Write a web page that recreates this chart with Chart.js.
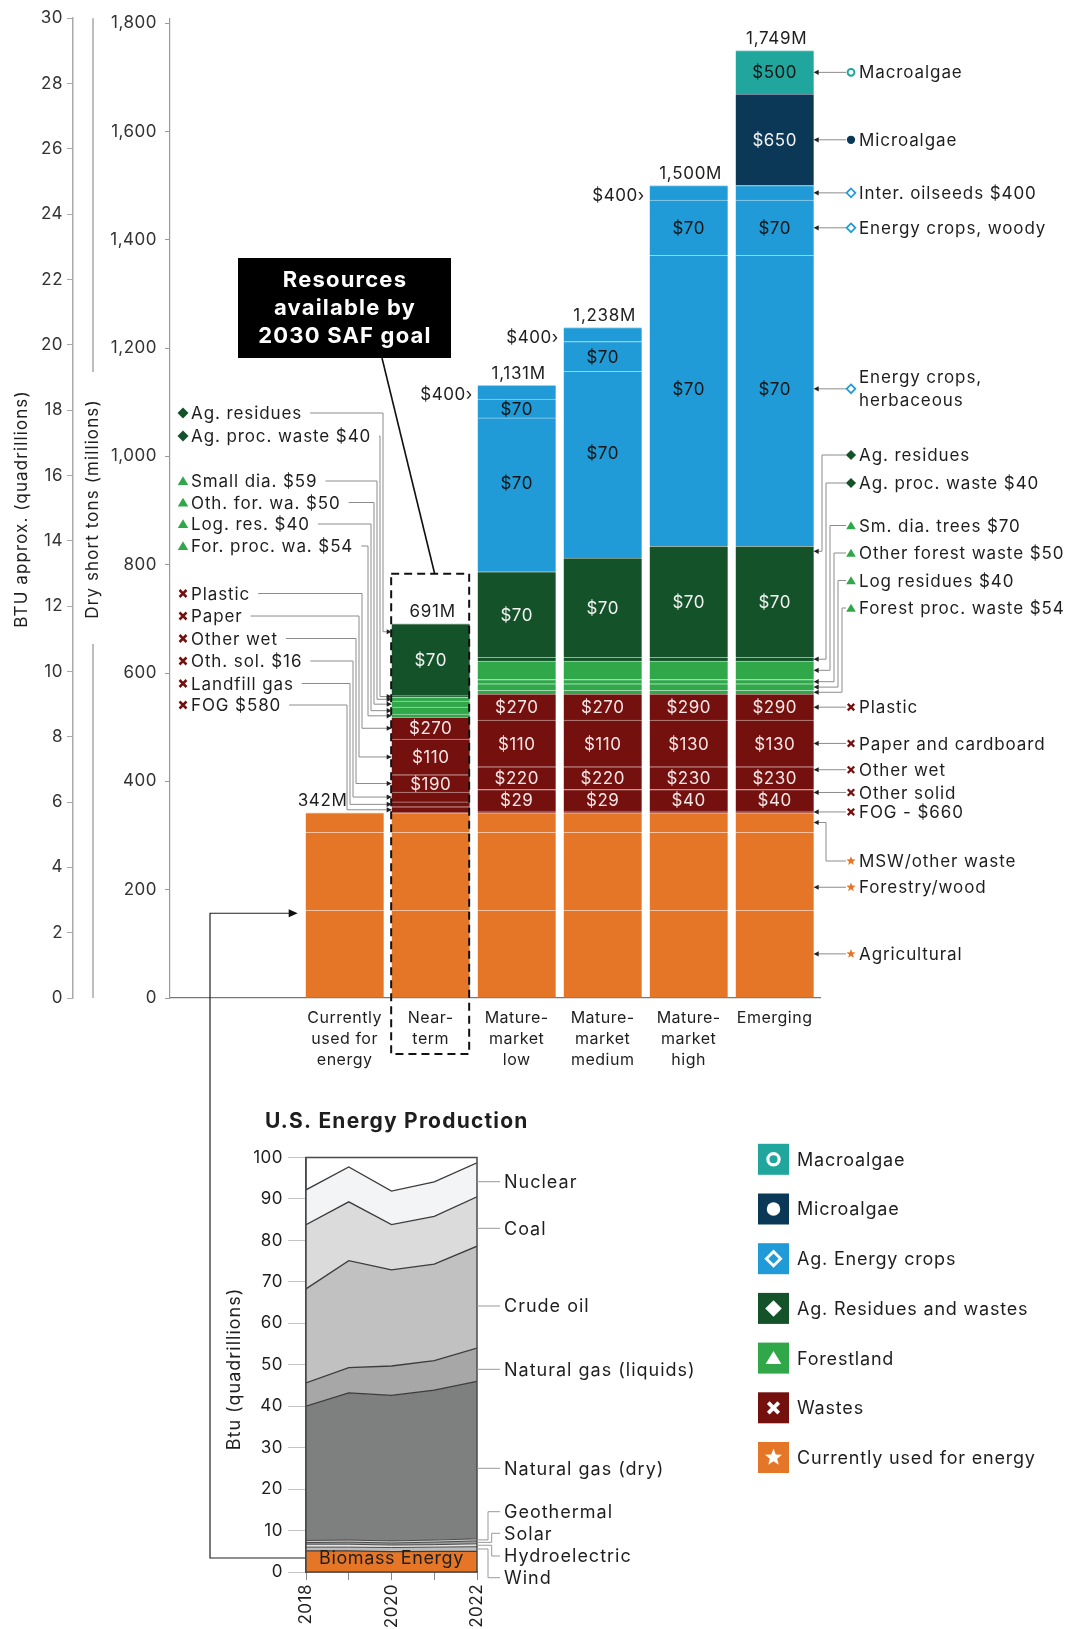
<!DOCTYPE html>
<html><head><meta charset="utf-8">
<script src="https://cdn.jsdelivr.net/npm/chart.js@4.4.1/dist/chart.umd.min.js"></script>
<style>
html,body{margin:0;padding:0;background:#fff;}
#wrap{position:relative;width:1071px;height:1629px;overflow:hidden;background:#fff;}
canvas{position:absolute;}
</style></head><body>
<div id="wrap">
<canvas id="main" width="1071" height="1629" style="left:0;top:0;width:1071px;height:1629px"></canvas>
<canvas id="energy" width="560" height="529" style="left:200px;top:1100px;width:560px;height:529px"></canvas>
</div>
<script>
// ---------------- DATA (million dry short tons) ----------------
const categories = [["Currently","used for","energy"],["Near-","term"],["Mature-","market","low"],["Mature-","market","medium"],["Mature-","market","high"],["Emerging"]];
const barIndex = [0,1,2,3,4,5];
const tonsTicks = [0,200,400,600,800,1000,1200,1400,1600,1800];
const btuTicks = [0,2,4,6,8,10,12,14,16,18,20,22,24,26,28,30];

const agricultural     = [162,162,162,162,162,162];
const forestryWood     = [144,144,144,144,144,144];
const mswOther         = [36,36,36,36,36,36];
const fog              = [0,11,3,3,3,3];
const landfillGas      = [0,9,0,0,0,0];
const otherSolid       = [0,18,40,40,40,40];
const otherWet         = [0,32,42,42,42,42];
const paper            = [0,66,86,86,86,86];
const plastic          = [0,40,48,48,48,48];
const forestProcWaste  = [0,6,7,7,7,7];
const logResidues      = [0,13,12,12,12,12];
const otherForestWaste = [0,11,8,8,8,8];
const smallDiaTrees    = [0,7,34,34,34,34];
const agProcWaste      = [0,3,7,7,7,7];
const agResidues       = [0,133,158,183,205,205];
const herbaceous       = [0,0,284,345,537,537];
const woody            = [0,0,35,55,102,102];
const oilseeds         = [0,0,25,26,27,27];
const microalgae       = [0,0,0,0,0,169];
const macroalgae       = [0,0,0,0,0,80];

// price labels ($/dry ton)
const agResiduesPrice = [null,'$70','$70','$70','$70','$70'];
const herbaceousPrice = [null,null,'$70','$70','$70','$70'];
const woodyPrice      = [null,null,'$70','$70','$70','$70'];
const plasticPrice    = [null,'$270','$270','$270','$290','$290'];
const paperPrice      = [null,'$110','$110','$110','$130','$130'];
const otherWetPrice   = [null,'$190','$220','$220','$230','$230'];
const otherSolidPrice = [null,null,'$29','$29','$40','$40'];
const microPrice      = [null,null,null,null,null,'$650'];
const macroPrice      = [null,null,null,null,null,'$500'];
const oilseedPrice    = [null,null,'$400','$400','$400',null];

// U.S. energy production (quadrillion Btu)
const years      = [2018,2019,2020,2021,2022];
const yearLabels = ['2018','','2020','','2022'];
const energyTicks = [0,10,20,30,40,50,60,70,80,90,100];
const biomass    = [5.1,5.1,4.9,5.0,5.0];
const wind       = [0.9,0.9,1.0,1.0,1.1];
const hydro      = [0.7,0.7,0.6,0.6,0.7];
const solar      = [0.4,0.5,0.5,0.6,0.7];
const geothermal = [0.5,0.5,0.5,0.5,0.5];
const ngDry      = [32.4,35.5,35.1,36.2,38.0];
const ngLiquids  = [5.6,6.1,7.1,7.1,8.0];
const crudeOil   = [22.7,25.8,23.2,23.3,24.6];
const coal       = [15.5,14.2,10.9,11.5,11.9];
const nuclear    = [8.4,8.4,8.1,8.3,8.2];

// ---------------- STYLE ----------------
const FONT = 'Inter, "Noto Sans", "DejaVu Sans", sans-serif';
const ORANGE='#E67627', RED='#74110F', LTGREEN='#30A84A', DKGREEN='#14522A', BLUE='#209BD7', NAVY='#0B3857', TEAL='#21A69D';
const TXT='#1e1e1e';
Chart.defaults.font.family = FONT;
Chart.defaults.font.size = 17;
Chart.defaults.color = TXT;

function lighten(hex, a){
  const n=parseInt(hex.slice(1),16); let r=n>>16,g=(n>>8)&255,b=n&255;
  r=Math.round(r+(255-r)*a); g=Math.round(g+(255-g)*a); b=Math.round(b+(255-b)*a);
  return `rgb(${r},${g},${b})`;
}

const layers = [
  {key:'agricultural', name:'Agricultural', data:agricultural, color:ORANGE},
  {key:'forestry', name:'Forestry/wood', data:forestryWood, color:ORANGE},
  {key:'msw', name:'MSW/other waste', data:mswOther, color:ORANGE},
  {key:'fog', name:'FOG', data:fog, color:RED},
  {key:'landfill', name:'Landfill gas', data:landfillGas, color:RED},
  {key:'otherSolid', name:'Other solid', data:otherSolid, color:RED, price:otherSolidPrice, tc:'#f6e6e6'},
  {key:'otherWet', name:'Other wet', data:otherWet, color:RED, price:otherWetPrice, tc:'#f6e6e6'},
  {key:'paper', name:'Paper and cardboard', data:paper, color:RED, price:paperPrice, tc:'#f6e6e6'},
  {key:'plastic', name:'Plastic', data:plastic, color:RED, price:plasticPrice, tc:'#f6e6e6'},
  {key:'forProc', name:'Forest proc. waste', data:forestProcWaste, color:LTGREEN},
  {key:'logRes', name:'Log residues', data:logResidues, color:LTGREEN},
  {key:'othFor', name:'Other forest waste', data:otherForestWaste, color:LTGREEN},
  {key:'smDia', name:'Sm. dia. trees', data:smallDiaTrees, color:LTGREEN},
  {key:'agProc', name:'Ag. proc. waste', data:agProcWaste, color:DKGREEN},
  {key:'agRes', name:'Ag. residues', data:agResidues, color:DKGREEN, price:agResiduesPrice, tc:'#f2f2f2'},
  {key:'herb', name:'Energy crops, herbaceous', data:herbaceous, color:BLUE, price:herbaceousPrice, tc:'#141414', pdy:-12},
  {key:'woody', name:'Energy crops, woody', data:woody, color:BLUE, price:woodyPrice, tc:'#141414'},
  {key:'oil', name:'Inter. oilseeds', data:oilseeds, color:BLUE},
  {key:'micro', name:'Microalgae', data:microalgae, color:NAVY, price:microPrice, tc:'#f2f2f2'},
  {key:'macro', name:'Macroalgae', data:macroalgae, color:TEAL, price:macroPrice, tc:'#141414'},
];
const layerKeys = layers.map(l=>l.key);

const leftNotes = [
  {key:'agRes', text:'Ag. residues', mk:'diamond', c:DKGREEN, ly:413, vx:383, anchor:'top', dy:8},
  {key:'agProc', text:'Ag. proc. waste $40', mk:'diamond', c:DKGREEN, ly:436, vx:380},
  {key:'smDia', text:'Small dia. $59', mk:'tri', c:LTGREEN, ly:481, vx:377},
  {key:'othFor', text:'Oth. for. wa. $50', mk:'tri', c:LTGREEN, ly:502.5, vx:374},
  {key:'logRes', text:'Log. res. $40', mk:'tri', c:LTGREEN, ly:524, vx:371},
  {key:'forProc', text:'For. proc. wa. $54', mk:'tri', c:LTGREEN, ly:546, vx:368},
  {key:'plastic', text:'Plastic', mk:'x', c:RED, ly:593.5, vx:362},
  {key:'paper', text:'Paper', mk:'x', c:RED, ly:616, vx:359},
  {key:'otherWet', text:'Other wet', mk:'x', c:RED, ly:638.5, vx:356},
  {key:'otherSolid', text:'Oth. sol. $16', mk:'x', c:RED, ly:661, vx:353},
  {key:'landfill', text:'Landfill gas', mk:'x', c:RED, ly:683.5, vx:350},
  {key:'fog', text:'FOG $580', mk:'x', c:RED, ly:705, vx:347},
];
const rightNotes = [
  {key:'macro', text:['Macroalgae'], mk:'ocircle', c:TEAL},
  {key:'micro', text:['Microalgae'], mk:'circle', c:NAVY},
  {key:'oil', text:['Inter. oilseeds $400'], mk:'odiamond', c:BLUE},
  {key:'woody', text:['Energy crops, woody'], mk:'odiamond', c:BLUE},
  {key:'herb', text:['Energy crops,','herbaceous'], mk:'odiamond', c:BLUE, dy:-12},
  {key:'agRes', text:['Ag. residues'], mk:'diamond', c:DKGREEN, anchor:'top', dy:5, ly:455, bx:822},
  {key:'agProc', text:['Ag. proc. waste $40'], mk:'diamond', c:DKGREEN, ly:483, bx:826},
  {key:'smDia', text:['Sm. dia. trees $70'], mk:'tri', c:LTGREEN, ly:525.5, bx:830},
  {key:'othFor', text:['Other forest waste $50'], mk:'tri', c:LTGREEN, ly:553, bx:834},
  {key:'logRes', text:['Log residues $40'], mk:'tri', c:LTGREEN, ly:580.5, bx:838},
  {key:'forProc', text:['Forest proc. waste $54'], mk:'tri', c:LTGREEN, ly:608, bx:842},
  {key:'plastic', text:['Plastic'], mk:'x', c:RED},
  {key:'paper', text:['Paper and cardboard'], mk:'x', c:RED},
  {key:'otherWet', text:['Other wet'], mk:'x', c:RED, anchor:'top', dy:3},
  {key:'otherSolid', text:['Other solid'], mk:'x', c:RED, anchor:'top', dy:3},
  {key:'fog', text:['FOG - $660'], mk:'x', c:RED},
  {key:'msw', text:['MSW/other waste'], mk:'star', c:ORANGE, ly:861, bx:826},
  {key:'forestry', text:['Forestry/wood'], mk:'star', c:ORANGE, dy:16},
  {key:'agricultural', text:['Agricultural'], mk:'star', c:ORANGE},
];
const legendItems = [
  {text:'Macroalgae', c:TEAL, mk:'ocircle'},
  {text:'Microalgae', c:NAVY, mk:'circle'},
  {text:'Ag. Energy crops', c:BLUE, mk:'odiamond'},
  {text:'Ag. Residues and wastes', c:DKGREEN, mk:'diamond'},
  {text:'Forestland', c:LTGREEN, mk:'tri'},
  {text:'Wastes', c:RED, mk:'x'},
  {text:'Currently used for energy', c:ORANGE, mk:'star'},
];

// ---------------- helpers ----------------
function marker(ctx, type, x, y, s, color){
  ctx.save(); ctx.fillStyle=color; ctx.strokeStyle=color; ctx.lineJoin='miter';
  ctx.beginPath();
  switch(type){
    case 'ocircle': ctx.lineWidth=s*0.42; ctx.arc(x,y,s*0.75,0,Math.PI*2); ctx.stroke(); break;
    case 'circle': ctx.arc(x,y,s*0.9,0,Math.PI*2); ctx.fill(); break;
    case 'odiamond': ctx.lineWidth=s*0.38; ctx.moveTo(x,y-s*0.95); ctx.lineTo(x+s*0.95,y); ctx.lineTo(x,y+s*0.95); ctx.lineTo(x-s*0.95,y); ctx.closePath(); ctx.stroke(); break;
    case 'diamond': ctx.moveTo(x,y-s*1.1); ctx.lineTo(x+s*1.1,y); ctx.lineTo(x,y+s*1.1); ctx.lineTo(x-s*1.1,y); ctx.closePath(); ctx.fill(); break;
    case 'tri': ctx.moveTo(x,y-s*0.95); ctx.lineTo(x+s*1.05,y+s*0.8); ctx.lineTo(x-s*1.05,y+s*0.8); ctx.closePath(); ctx.fill(); break;
    case 'x': { ctx.lineWidth=s*0.5; ctx.lineCap='butt'; const d=s*0.7; ctx.moveTo(x-d,y-d); ctx.lineTo(x+d,y+d); ctx.moveTo(x+d,y-d); ctx.lineTo(x-d,y+d); ctx.stroke(); break; }
    case 'star': {
      for(let k=0;k<10;k++){const r=k%2?s*0.45:s*1.05; const a=-Math.PI/2+k*Math.PI/5; const px=x+r*Math.cos(a), py=y+r*Math.sin(a); k?ctx.lineTo(px,py):ctx.moveTo(px,py);}
      ctx.closePath(); ctx.fill(); break;
    }
  }
  ctx.restore();
}
function arrowHead(ctx, x, y, dir, color){
  ctx.save(); ctx.fillStyle=color||'#333'; ctx.beginPath();
  ctx.moveTo(x,y); ctx.lineTo(x-dir*5,y-2.6); ctx.lineTo(x-dir*5,y+2.6); ctx.closePath(); ctx.fill(); ctx.restore();
}
function segOf(chart, key, i){
  const el = chart.getDatasetMeta(layerKeys.indexOf(key)).data[i];
  const top=Math.min(el.y,el.base), bottom=Math.max(el.y,el.base);
  return {top, bottom, mid:(top+bottom)/2, left:el.x-el.width/2, right:el.x+el.width/2, cx:el.x};
}
function anchorY(s, n){ return (n.anchor==='top'? s.top : s.mid) + (n.dy||0); }
function setFont(ctx, size, spacing, bold){ ctx.font=(bold?'bold ':'')+size+'px '+FONT; ctx.letterSpacing=spacing+'px'; }

// ---------------- main chart plugin ----------------
const mainAnnot = {
  id:'mainAnnot',
  beforeDraw(chart){ chart.ctx.letterSpacing='0.5px'; },
  afterDraw(chart){
    const ctx=chart.ctx; const ys=chart.scales.y;
    ctx.save();
    ctx.textBaseline='middle';
    // in-bar price labels
    setFont(ctx,17,0.5); ctx.textAlign='center';
    layers.forEach(l=>{
      if(!l.price) return;
      l.price.forEach((p,i)=>{ if(!p) return; const s=segOf(chart,l.key,i); ctx.fillStyle=l.tc; ctx.fillText(p, s.cx, s.mid+(l.pdy||0)+1); });
    });
    // oilseed labels beside bars
    ctx.textAlign='right'; ctx.fillStyle=TXT;
    oilseedPrice.forEach((p,i)=>{ if(!p) return; const s=segOf(chart,'oil',i); ctx.fillText(p+'›', s.left-5, s.mid+3); });
    // totals
    setFont(ctx,17,0.7); ctx.textAlign='center';
    barIndex.forEach(i=>{
      const tot=layers.reduce((a,l)=>a+l.data[i],0);
      const el=chart.getDatasetMeta(0).data[i];
      const yTop=ys.getPixelForValue(tot);
      ctx.fillStyle=TXT; ctx.fillText(tot.toLocaleString('en-US')+'M', el.x+(i===0?-22:2), yTop-12);
    });
    // dashed near-term box
    const nt=segOf(chart,'agricultural',1);
    const ntTop=segOf(chart,'agRes',1).top;
    ctx.save(); ctx.setLineDash([8,5]); ctx.lineWidth=2; ctx.strokeStyle='#111';
    ctx.strokeRect(nt.left-0.5, ntTop-50, nt.right-nt.left, 1054-(ntTop-50)); ctx.restore();
    // callout
    ctx.fillStyle='#000'; ctx.fillRect(238,258,213,100);
    ctx.fillStyle='#fff'; setFont(ctx,22,1.2,true); ctx.textAlign='center';
    ['Resources','available by','2030 SAF goal'].forEach((t,k)=>ctx.fillText(t,345,280+k*28));
    ctx.strokeStyle='#111'; ctx.lineWidth=1.6; ctx.beginPath(); ctx.moveTo(382,358); ctx.lineTo((nt.left+nt.right)/2+4, ntTop-50); ctx.stroke();
    // left notes to near-term bar
    setFont(ctx,17,0.9); ctx.textAlign='left';
    leftNotes.forEach(n=>{
      const s=segOf(chart,n.key,1); const ay=anchorY(s,n);
      marker(ctx,n.mk,183,n.ly,5,n.c);
      ctx.fillStyle=TXT; ctx.fillText(n.text,191,n.ly+1);
      const w=ctx.measureText(n.text).width;
      ctx.strokeStyle='#8c8c8c'; ctx.lineWidth=1; ctx.beginPath();
      ctx.moveTo(191+w+8,n.ly); ctx.lineTo(n.vx,n.ly); ctx.lineTo(n.vx,ay); ctx.lineTo(s.left-1,ay); ctx.stroke();
      arrowHead(ctx,s.left,ay,1,'#222');
    });
    // right notes from emerging bar
    rightNotes.forEach(n=>{
      const s=segOf(chart,n.key,5); const ay=anchorY(s,n); const ly=(n.ly!==undefined)?n.ly:ay;
      ctx.strokeStyle='#8c8c8c'; ctx.lineWidth=1; ctx.beginPath();
      ctx.moveTo(s.right+1,ay);
      if(n.bx){ ctx.lineTo(n.bx,ay); ctx.lineTo(n.bx,ly); }
      ctx.lineTo(846,ly); ctx.stroke();
      arrowHead(ctx,s.right,ay,-1,'#222');
      marker(ctx,n.mk,851,ly,4.6,n.c);
      ctx.fillStyle=TXT; ctx.textAlign='left';
      if(n.text.length===1) ctx.fillText(n.text[0],859,ly+1);
      else n.text.forEach((t,k)=>ctx.fillText(t,859,ly-11.5+k*23+1));
    });
    // left axis titles & split line
    ctx.save(); setFont(ctx,17,1.1); ctx.fillStyle=TXT; ctx.textAlign='center';
    ctx.translate(22,509); ctx.rotate(-Math.PI/2); ctx.fillText('BTU approx. (quadrillions)',0,0); ctx.restore();
    ctx.save(); setFont(ctx,17,1.1); ctx.fillStyle=TXT; ctx.textAlign='center';
    ctx.translate(93,509); ctx.rotate(-Math.PI/2); ctx.fillText('Dry short tons (millions)',0,0); ctx.restore();
    ctx.strokeStyle='#a8a8a8'; ctx.lineWidth=1.5; ctx.beginPath();
    ctx.moveTo(93,chart.chartArea.top); ctx.lineTo(93,372); ctx.moveTo(93,644); ctx.lineTo(93,chart.chartArea.bottom); ctx.stroke();
    // connector from energy chart biomass to current-use bar
    const b0=segOf(chart,'agricultural',0); const cy=b0.top+3;
    ctx.strokeStyle='#222'; ctx.lineWidth=1.2; ctx.beginPath();
    ctx.moveTo(306,1558); ctx.lineTo(210,1558); ctx.lineTo(210,cy); ctx.lineTo(b0.left-12,cy); ctx.stroke();
    ctx.save(); ctx.fillStyle='#111'; ctx.beginPath(); ctx.moveTo(b0.left-8,cy); ctx.lineTo(b0.left-17,cy-4); ctx.lineTo(b0.left-17,cy+4); ctx.closePath(); ctx.fill(); ctx.restore();
    // legend
    legendItems.forEach((it,k)=>{
      const cyy=1159.3+k*49.7;
      ctx.fillStyle=it.c; ctx.fillRect(758,cyy-15.5,31,31);
      marker(ctx,it.mk,773.5,cyy,it.mk==='star'?8.5:7.5,'#fff');
      ctx.fillStyle=TXT; setFont(ctx,18,0.8); ctx.textAlign='left'; ctx.fillText(it.text,797,cyy+1);
    });
    ctx.restore();
  }
};

const mainChart = new Chart(document.getElementById('main'), {
  type:'bar',
  data:{
    labels: barIndex,
    datasets: layers.map(l=>({label:l.name, data:l.data.map(v=>v||null), xAxisID:'x', yAxisID:'y', backgroundColor:l.color, borderColor:lighten(l.color,0.55),
      borderWidth:{top:1,right:0,bottom:0,left:0}, borderSkipped:false, barThickness:78, grouped:false}))
  },
  options:{
    responsive:false, animation:false, events:[],
    layout:{padding:{left:0, top:14, right:251, bottom:546}},
    plugins:{legend:{display:false}, tooltip:{enabled:false}},
    scales:{
      x:{type:'linear', offset:false, min:-2.031, max:5.527,
        afterBuildTicks:s=>{s.ticks=barIndex.map(v=>({value:v}));},
        afterFit:s=>{s.height=85;},
        grid:{display:false, offset:false}, border:{display:true, color:'#777', width:1.2},
        ticks:{autoSkip:false, maxRotation:0, minRotation:0, padding:2, font:{size:16, lineHeight:1.3}, color:TXT, callback:v=>categories[v]}},
      btu:{type:'linear', axis:'y', position:'left', weight:2, min:0, max:30,
        afterBuildTicks:s=>{s.ticks=btuTicks.map(v=>({value:v}));},
        afterFit:s=>{s.width=73;},
        grid:{drawOnChartArea:false, drawTicks:true, tickLength:6, color:'#aaa'},
        border:{display:true, color:'#aaa', width:1.5},
        ticks:{autoSkip:false, padding:4, font:{size:17}, color:'#333'}},
      y:{type:'linear', position:'left', weight:1, stacked:true, min:0, max:1809,
        afterBuildTicks:s=>{s.ticks=tonsTicks.map(v=>({value:v}));},
        afterFit:s=>{s.width=97;},
        grid:{drawOnChartArea:false, drawTicks:true, tickLength:5, color:'#999'},
        border:{display:true, color:'#999', width:1.2},
        ticks:{autoSkip:false, padding:8, font:{size:17}, color:'#333', callback:v=>v.toLocaleString('en-US')}}
    }
  },
  plugins:[mainAnnot]
});

// ---------------- energy production chart ----------------
const energyLayers = [
  {key:'biomass', name:'Biomass Energy', data:biomass, color:ORANGE},
  {key:'wind', name:'Wind', data:wind, color:'#bdbdbd'},
  {key:'hydro', name:'Hydroelectric', data:hydro, color:'#e4e4e4'},
  {key:'solar', name:'Solar', data:solar, color:'#9c9c9c'},
  {key:'geothermal', name:'Geothermal', data:geothermal, color:'#cfcfcf'},
  {key:'ngDry', name:'Natural gas (dry)', data:ngDry, color:'#7e7f7f'},
  {key:'ngLiquids', name:'Natural gas (liquids)', data:ngLiquids, color:'#a7a7a7'},
  {key:'crude', name:'Crude oil', data:crudeOil, color:'#c1c1c1'},
  {key:'coal', name:'Coal', data:coal, color:'#dbdbdb'},
  {key:'nuclear', name:'Nuclear', data:nuclear, color:'#f3f4f6'},
];
const energyKeys = energyLayers.map(l=>l.key);
const energyNotes = [
  {text:'Nuclear', ly:81.7},
  {text:'Coal', ly:128.3},
  {text:'Crude oil', ly:206},
  {text:'Natural gas (liquids)', ly:269.3},
  {text:'Natural gas (dry)', ly:368.3},
  {text:'Geothermal', ly:411.7, key:'geothermal', bx:288},
  {text:'Solar', ly:433.3, key:'solar', bx:291.7},
  {text:'Hydroelectric', ly:456, key:'hydro', bx:291.7},
  {text:'Wind', ly:477.7, key:'wind', bx:288},
];
const energyAnnot = {
  id:'energyAnnot',
  beforeDraw(chart){ chart.ctx.letterSpacing='0.5px'; },
  afterDraw(chart){
    const ctx=chart.ctx, ca=chart.chartArea; ctx.save();
    ctx.strokeStyle='#4a4a4a'; ctx.lineWidth=1.5; ctx.strokeRect(ca.left,ca.top,ca.right-ca.left,ca.bottom-ca.top);
    ctx.fillStyle=TXT; ctx.textBaseline='middle';
    setFont(ctx,21,1.2,true); ctx.textAlign='left'; ctx.fillText('U.S. Energy Production',65,22);
    setFont(ctx,18,0.6); ctx.textAlign='center';
    ctx.fillText('Biomass Energy',(ca.left+ca.right)/2,459);
    setFont(ctx,18,1); 
    ctx.save(); ctx.translate(35,269); ctx.rotate(-Math.PI/2); ctx.fillText('Btu (quadrillions)',0,0); ctx.restore();
    ctx.textAlign='left';
    energyNotes.forEach(n=>{
      ctx.strokeStyle='#999'; ctx.lineWidth=1; ctx.beginPath();
      if(n.key){
        const di=energyKeys.indexOf(n.key); const last=years.length-1;
        const yTop=chart.getDatasetMeta(di).data[last].y, yBot=chart.getDatasetMeta(di-1).data[last].y;
        const ay=(yTop+yBot)/2;
        ctx.moveTo(ca.right,ay); ctx.lineTo(n.bx,ay); ctx.lineTo(n.bx,n.ly); ctx.lineTo(300,n.ly);
      } else { ctx.moveTo(ca.right,n.ly); ctx.lineTo(300,n.ly); }
      ctx.stroke();
      ctx.fillStyle=TXT; ctx.fillText(n.text,304,n.ly+1);
    });
    ctx.restore();
  }
};
const energyChart = new Chart(document.getElementById('energy'), {
  type:'line',
  data:{
    labels: years,
    datasets: energyLayers.map((l,i)=>({label:l.name, data:l.data, backgroundColor:l.color, borderColor:'#3c3c3c',
      borderWidth:(i>=1&&i<=4)?0.9:1.3, fill:i===0?'origin':'-1', pointRadius:0, tension:0}))
  },
  options:{
    responsive:false, animation:false, events:[],
    layout:{padding:{left:0, top:57.5, right:283, bottom:0}},
    plugins:{legend:{display:false}, tooltip:{enabled:false}},
    scales:{
      x:{type:'linear', min:2018, max:2022,
        afterBuildTicks:s=>{s.ticks=years.map(v=>({value:v}));},
        afterFit:s=>{s.height=57;},
        grid:{drawOnChartArea:false, drawTicks:true, tickLength:8, color:'#888'},
        border:{display:true, color:'#4a4a4a', width:1.5},
        ticks:{autoSkip:false, minRotation:90, maxRotation:90, padding:4, font:{size:17}, color:TXT, callback:(v,i)=>yearLabels[i]}},
      y:{type:'linear', stacked:true, min:0, max:100,
        afterBuildTicks:s=>{s.ticks=energyTicks.map(v=>({value:v}));},
        afterFit:s=>{s.width=106;},
        grid:{drawOnChartArea:false, drawTicks:true, tickLength:18, color:'#c4c4c4'},
        border:{display:true, color:'#4a4a4a', width:1.5},
        ticks:{autoSkip:false, padding:5, font:{size:17}, color:TXT}}
    }
  },
  plugins:[energyAnnot]
});
</script>
</body></html>
